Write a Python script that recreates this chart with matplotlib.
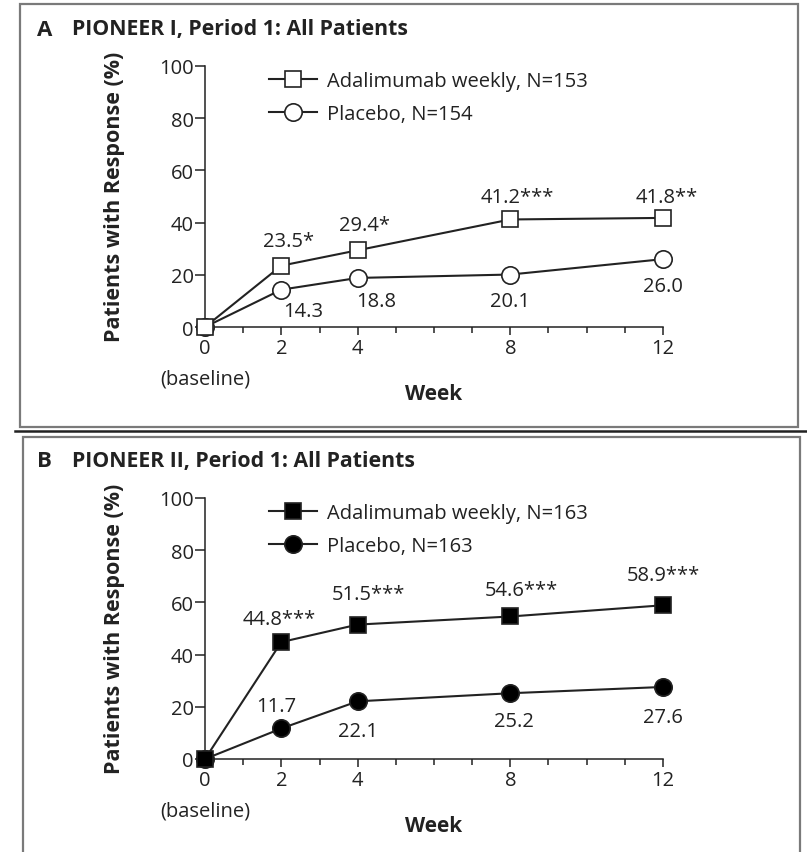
import matplotlib
matplotlib.use("Agg")
import matplotlib.pyplot as plt
from matplotlib.patches import Rectangle
from matplotlib.lines import Line2D

plt.rcParams["font.family"] = ["Open Sans", "DejaVu Sans"]

# data
weeks = [0, 2, 4, 8, 12]
week_ticks = [0, 2, 4, 8, 12]

a_adal = [0, 23.5, 29.4, 41.2, 41.8]
a_adal_labels = ["", "23.5*", "29.4*", "41.2***", "41.8**"]
a_plac = [0, 14.3, 18.8, 20.1, 26.0]
a_plac_labels = ["", "14.3", "18.8", "20.1", "26.0"]

b_adal = [0, 44.8, 51.5, 54.6, 58.9]
b_adal_labels = ["", "44.8***", "51.5***", "54.6***", "58.9***"]
b_plac = [0, 11.7, 22.1, 25.2, 27.6]
b_plac_labels = ["", "11.7", "22.1", "25.2", "27.6"]

# label offsets in pixels (dx, dy)
a_adal_off = [(0, 0), (7, 25), (7, 25), (7, 22), (4, 21)]
a_plac_off = [(0, 0), (22, -21), (19, -23), (0, -26), (0, -27)]
b_adal_off = [(0, 0), (-2, 23), (11, 31), (11, 26), (0, 30)]
b_plac_off = [(0, 0), (-5, 22), (0, -30), (4, -28), (0, -30)]

W, H = 807, 853
fig = plt.figure(figsize=(W / 100, H / 100), dpi=100)
fig.patch.set_facecolor("white")


def fx(px):
    return px / W


def fy(py):
    return 1 - py / H


FS = 14.5
ink = "#222222"
grey = "#7a7a7a"

# panel frames
fig.patches.append(Rectangle((fx(20), fy(428)), fx(798) - fx(20), fy(5) - fy(428),
                             transform=fig.transFigure, fill=False, ec=grey, lw=1.6))
fig.patches.append(Rectangle((fx(23), fy(900)), fx(800) - fx(23), fy(438) - fy(900),
                             transform=fig.transFigure, fill=False, ec=grey, lw=1.6))
fig.lines.append(Line2D([fx(15), fx(807)], [fy(432), fy(432)], transform=fig.transFigure,
                        color=ink, lw=1.8))


def panel(y0, letter, title, adal, adal_lab, adal_off, plac, plac_lab, plac_off,
          n_adal, n_plac, filled):
    ax = fig.add_axes([fx(205), fy(y0), fx(663) - fx(205), 261 / H])
    ax.set_xlim(0, 12)
    ax.set_ylim(0, 100)
    for s in ["top", "right"]:
        ax.spines[s].set_visible(False)
    for s in ["left", "bottom"]:
        ax.spines[s].set_linewidth(1.1)
        ax.spines[s].set_color(ink)
    ax.set_yticks(range(0, 101, 20))
    ax.set_xticks(week_ticks)
    ax.set_xticks(range(0, 13), minor=True)
    ax.tick_params(axis="y", direction="out", length=7, width=1.1, pad=1,
                   labelsize=FS, colors=ink)
    ax.tick_params(axis="x", which="major", direction="out", length=6, width=1.1,
                   pad=2, labelsize=FS, colors=ink)
    ax.tick_params(axis="x", which="minor", direction="out", length=4, width=1.1,
                   colors=ink)
    ax.patch.set_alpha(0)

    fc = "black" if filled else "white"
    lp, = ax.plot(weeks, plac, "-o", color=ink, lw=1.5, ms=12.5, mfc=fc,
                  mec=ink, mew=1.2, clip_on=False, zorder=3)
    la, = ax.plot(weeks, adal, "-s", color=ink, lw=1.5, ms=12, mfc=fc,
                  mec=ink, mew=1.2, clip_on=False, zorder=4)

    for x, y, t, o in zip(weeks, adal, adal_lab, adal_off):
        ax.annotate(t, (x, y), xytext=o, textcoords="offset pixels",
                    ha="center", va="center", fontsize=FS, color=ink)
    for x, y, t, o in zip(weeks, plac, plac_lab, plac_off):
        ax.annotate(t, (x, y), xytext=o, textcoords="offset pixels",
                    ha="center", va="center", fontsize=FS, color=ink)

    ax.annotate("(baseline)", (0, 0), xytext=(0, -52), textcoords="offset pixels",
                ha="center", va="center", fontsize=FS, color=ink,
                annotation_clip=False)
    ax.set_xlabel("Week", fontsize=FS + 0.5, fontweight="bold", color=ink)
    ax.xaxis.set_label_coords(0.5, -56 / 261)

    ax.legend([la, lp], [f"Adalimumab weekly, N={n_adal}", f"Placebo, N={n_plac}"],
              loc="upper left", bbox_to_anchor=(0.14, 0.98), frameon=False,
              fontsize=FS, handlelength=2.4, handletextpad=0.45, labelspacing=0.65,
              borderpad=0, borderaxespad=0, labelcolor=ink)

    fig.text(fx(115), fy(y0 - 131), "Patients with Response (%)", rotation=90,
             ha="center", va="center", fontsize=FS + 1, fontweight="bold", color=ink)
    fig.text(fx(37), fy(y0 - 298), letter, ha="left", va="center",
             fontsize=FS + 1.5, fontweight="bold", color=ink)
    fig.text(fx(72), fy(y0 - 298), title, ha="left", va="center",
             fontsize=FS + 0.8, fontweight="bold", color=ink)
    return ax


panel(328, "A", "PIONEER I, Period 1: All Patients", a_adal, a_adal_labels, a_adal_off,
      a_plac, a_plac_labels, a_plac_off, 153, 154, False)
panel(760, "B", "PIONEER II, Period 1: All Patients", b_adal, b_adal_labels, b_adal_off,
      b_plac, b_plac_labels, b_plac_off, 163, 163, True)

fig.savefig("out.png", dpi=100)
